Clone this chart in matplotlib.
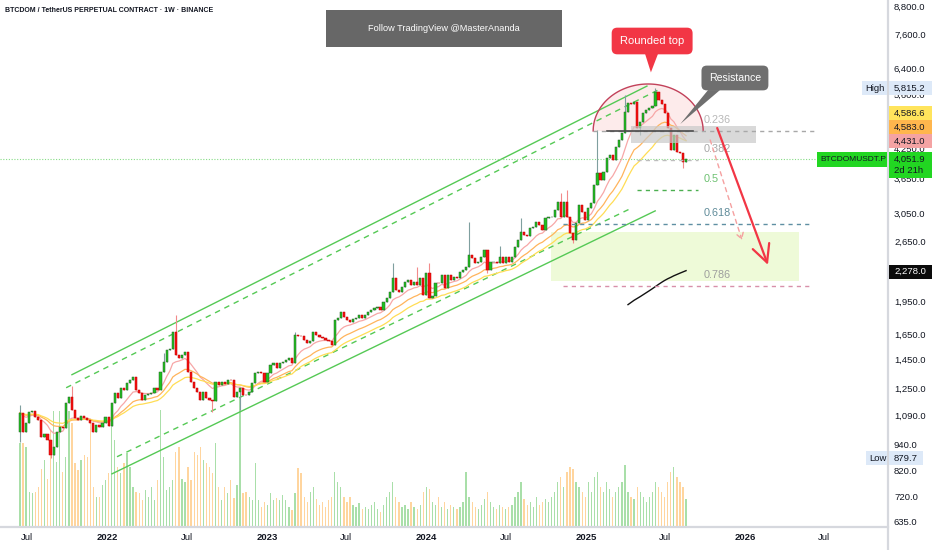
import datetime as dt
import numpy as np
import pandas as pd
import matplotlib
matplotlib.use("Agg")
import matplotlib.pyplot as plt
from matplotlib.patches import Rectangle, Polygon
from matplotlib.transforms import blended_transform_factory
from matplotlib import font_manager as fm


def pick_font(names):
    for n in names:
        try:
            fm.findfont(fm.FontProperties(family=n), fallback_to_default=False)
            return n
        except Exception:
            continue
    return "DejaVu Sans"


FONT = pick_font(["Liberation Sans", "Arial"])
NARROW = pick_font(["Liberation Sans Narrow", FONT])
plt.rcParams["font.family"] = [FONT, "DejaVu Sans"]

# ---------------------------------------------------------------- data
start_date = dt.date(2021, 6, 14)          # first weekly candle
first_open = 1007
closes = [
    1109, 1007, 1054, 1115, 1120, 1087, 1070, 981, 996, 966,
    895, 932, 1007, 1032, 1027, 1167, 1204, 1126, 1081, 1070,
    1092, 1081, 1070, 1054, 1007, 1043, 1032, 1054, 1087, 1038,
    1167, 1228, 1197, 1260, 1247, 1293, 1313, 1333, 1247, 1228,
    1185, 1216, 1222, 1228, 1260, 1247, 1367, 1439, 1530, 1538,
    1677, 1491, 1468, 1491, 1514, 1367, 1300, 1260, 1234, 1185,
    1234, 1197, 1185, 1179, 1300, 1280, 1300, 1287, 1313, 1310,
    1204, 1234, 1260, 1216, 1212, 1234, 1293, 1360, 1367, 1360,
    1300, 1360, 1417, 1432, 1395, 1432, 1439, 1454, 1468, 1432,
    1651, 1643, 1640, 1610, 1585, 1602, 1677, 1651, 1634, 1626,
    1610, 1602, 1569, 1782, 1801, 1857, 1810, 1782, 1764, 1791,
    1801, 1829, 1801, 1829, 1857, 1876, 1895, 1905, 1876, 1954,
    1994, 2056, 2208, 2077, 2056, 2109, 2164, 2186, 2131, 2164,
    2131, 2208, 2025, 2265, 1994, 2015, 2153, 2150, 2242, 2098,
    2242, 2186, 2220, 2208, 2277, 2300, 2336, 2483, 2445, 2384,
    2396, 2458, 2547, 2300, 2396, 2400, 2384, 2458, 2384, 2458,
    2396, 2458, 2587, 2680, 2792, 2750, 2736, 2850, 2865, 2938,
    2894, 2821, 2998, 3005, 3014, 3124, 3254, 3014, 3254, 3014,
    2778, 2680, 2924, 3205, 3092, 2968, 3156, 3238, 3549, 3772,
    3640, 3791, 4072, 4135, 4031, 4307, 4463, 4625, 5148, 5389,
    5362, 5417, 4745, 4892, 5122, 5201, 5254, 5308, 5700, 5473,
    5362, 5122, 4745, 4241, 4578, 4198, 4177, 3990, 4051.9,
]
volumes = [
    84, 84, 80, 35, 34, 35, 40, 58, 67, 48,
    97, 116, 65, 116, 55, 70, 116, 104, 64, 57,
    67, 72, 70, 107, 40, 30, 30, 42, 47, 54,
    102, 87, 60, 54, 64, 74, 60, 40, 35, 34,
    27, 37, 30, 40, 27, 47, 117, 70, 37, 40,
    47, 75, 80, 48, 45, 60, 47, 75, 72, 80,
    67, 64, 60, 54, 84, 40, 27, 40, 34, 47,
    29, 42, 130, 34, 35, 30, 27, 64, 27, 20,
    25, 22, 34, 27, 29, 27, 32, 27, 20, 17,
    34, 59, 54, 30, 25, 35, 40, 28, 22, 25,
    20, 27, 30, 55, 45, 40, 30, 25, 30, 22,
    20, 24, 18, 20, 18, 22, 25, 18, 15, 22,
    30, 35, 45, 30, 25, 20, 22, 18, 25, 20,
    18, 22, 35, 40, 38, 25, 22, 30, 20, 25,
    18, 22, 20, 18, 20, 25, 55, 30, 25, 20,
    18, 22, 28, 35, 25, 20, 18, 22, 20, 18,
    20, 22, 30, 35, 45, 28, 22, 25, 20, 30,
    22, 25, 28, 25, 30, 35, 45, 50, 40, 55,
    60, 58, 45, 40, 35, 30, 45, 35, 50, 55,
    40, 35, 45, 38, 30, 35, 40, 45, 62, 35,
    30, 28, 40, 35, 30, 25, 30, 35, 45, 40,
    35, 30, 45, 55, 60, 50, 45, 40, 28,
]
high_wicks = {0: 1155, 17: 1273, 47: 1508, 51: 1829, 90: 1677, 122: 2384,
              130: 2336, 134: 2384, 147: 2938, 157: 2600, 164: 2998,
              177: 3407, 179: 3459, 189: 4697, 198: 5614, 208: 5815.2}
low_wicks = {0: 956, 10: 879.7, 63: 1115, 72: 1126, 153: 2265, 181: 2640,
             203: 4578, 217: 3870}
ema_periods = [10, 20, 30]
sma_period = 200

last_price = 4051.9
high_value = 5815.2
low_value = 879.7
ema_values = [4431.0, 4583.0, 4586.6]
sma_value = 2278.0
price_ticks = [8800, 7600, 6400, 5600, 4250, 3650, 3050, 2650,
               1950, 1650, 1450, 1250, 1090, 940, 820, 720, 635]
time_labels = [("2021-07-01", "Jul"), ("2022-01-01", "2022"), ("2022-07-01", "Jul"),
               ("2023-01-01", "2023"), ("2023-07-01", "Jul"), ("2024-01-01", "2024"),
               ("2024-07-01", "Jul"), ("2025-01-01", "2025"), ("2025-07-01", "Jul"),
               ("2026-01-01", "2026"), ("2026-07-01", "Jul")]

# channel trend lines: (week index, price) pairs
chan_upper = [(17.0, 1347), (205.2, 5877)]
chan_upper_dash = [(15.1, 1260), (208.8, 5759)]
chan_lower = [(30.1, 812), (207.9, 3108)]
chan_lower_dash = [(31.75, 886), (200.3, 3156)]

fib_names = ["0.236", "0.382", "0.5", "0.618", "0.786"]
fib_prices = [4673, 4031, 3459, 2909, 2120]
fib_spans = [(187.6, 260.2), (202.0, 222.0), (202.0, 222.0), (177.7, 258.6), (177.7, 258.6)]
fib_line_colors = ["#a8a8a8", "#bdbdbd", "#4caf50", "#5f8fa3", "#d890aa"]
fib_text_colors = ["#b8b8b8", "#a8a8a8", "#6cc070", "#5f8b99", "#9e9e9e"]
fib_label_week = 223.6

resistance_line = (192.1, 220.3, 4673)
gray_zone = (200.0, 240.9, 4396, 4795)
green_zone = (173.8, 255.0, 2175, 2792)
arc_center, arc_half, arc_base, arc_top = 205.6, 18.0, 4673, 5940
arrow_solid = [(228.2, 4745), (244.8, 2360)]
arrow_dashed = [(225.9, 4463), (236.3, 2680)]
callout_top = (206.9, 7398)
callout_top_ptr = [(204.6, 6923), (208.8, 6923), (206.5, 6303)]
callout_res = (234.0, 6125)
callout_res_ptr = [(225.2, 5759), (229.1, 5759), (216.1, 4842)]

# ---------------------------------------------------------------- figure
W, H = 932, 550
fig = plt.figure(figsize=(W / 100, H / 100), dpi=100)
fig.patch.set_facecolor("white")
rect = [0, 23 / H, 888 / W, 527 / H]
XLIM = (-6.55, 284.1)
YLIM = (619, 9120)

n = len(closes)
idx = np.arange(n)
c = np.array(closes, float)
o = np.array([first_open] + closes[:-1], float)
up = c >= o
body_lo = np.minimum(o, c)
body_hi = np.maximum(o, c)
hi = body_hi.copy()
lo = body_lo.copy()
for k, v in high_wicks.items():
    hi[k] = v
for k, v in low_wicks.items():
    lo[k] = v

# volume axes (behind)
axv = fig.add_axes(rect)
axv.set_xlim(*XLIM)
axv.set_ylim(0, 527)
axv.bar(idx, volumes, width=0.42, color=np.where(up, "#a9dfa9", "#ffd59e"), linewidth=0)
axv.axis("off")

# price axes
ax = fig.add_axes(rect)
ax.patch.set_alpha(0)
ax.set_yscale("log")
ax.set_xlim(*XLIM)
ax.set_ylim(*YLIM)
for s in ax.spines.values():
    s.set_visible(False)
ax.set_xticks([])
ax.set_yticks([])
ax.yaxis.set_minor_locator(matplotlib.ticker.NullLocator())

# zones
ax.add_patch(Rectangle((green_zone[0], green_zone[2]), green_zone[1] - green_zone[0],
                       green_zone[3] - green_zone[2], fc="#eefad8", ec="none", zorder=0.5))
t = np.linspace(0, np.pi, 120)
arc_x = arc_center + arc_half * np.cos(t)
arc_y = np.exp(np.log(arc_base) + np.log(arc_top / arc_base) * np.sin(t))
ax.fill(arc_x, arc_y, fc="#fde6e6", ec="none", alpha=0.8, zorder=0.6)

# channel
ch_col = "#55c955"
for pts, ls in [(chan_upper, "-"), (chan_lower, "-"),
                (chan_upper_dash, (0, (4, 3.5))), (chan_lower_dash, (0, (4, 3.5)))]:
    ax.plot([p[0] for p in pts], [p[1] for p in pts], color=ch_col, lw=1.0, ls=ls, zorder=1)

# moving averages
cs = pd.Series(c)
for p, col in zip(ema_periods, ["#f7a7a7", "#ffb45c", "#ffdd55"]):
    ax.plot(idx, cs.ewm(span=p, adjust=False).mean(), color=col, lw=0.9, zorder=2)
ax.plot(idx, cs.rolling(sma_period).mean(), color="#111111", lw=1.0, zorder=2)

# candles
wick_cols = np.where(up, "#7f9f9f", "#f28a8a")
ax.vlines(idx, lo, hi, colors=wick_cols, lw=0.8, zorder=3)
ax.bar(idx, body_hi - body_lo, bottom=body_lo, width=0.72,
       color=np.where(up, "#1fc21f", "#f51010"),
       edgecolor=np.where(up, "#2d5e2d", "#c00000"), linewidth=0.35, zorder=4)

# gray resistance zone
ax.add_patch(Rectangle((gray_zone[0], gray_zone[2]), gray_zone[1] - gray_zone[0],
                       gray_zone[3] - gray_zone[2], fc="#c9c9c9", ec="none", alpha=0.7, zorder=4.5))
ax.plot(arc_x, arc_y, color="#c2415a", lw=1.0, zorder=5)

# fibonacci levels
for name, pr, (a, b), lc, tc in zip(fib_names, fib_prices, fib_spans, fib_line_colors, fib_text_colors):
    ax.plot([a, b], [pr, pr], color=lc, lw=1.0, ls=(0, (3, 3)), zorder=5)
    ax.annotate(name, (fib_label_week, pr), xytext=(0, 10.5), textcoords="offset pixels",
                ha="left", va="center", fontsize=7.8, color=tc, zorder=6)
ax.plot([resistance_line[0], resistance_line[1]], [resistance_line[2]] * 2,
        color="#4a4a4a", lw=1.2, zorder=5)

# current price line
ax.axhline(last_price, color="#86dc86", lw=0.8, ls=(0, (1, 1.5)), zorder=1)

# arrows
ax.annotate("", xy=arrow_solid[1], xytext=arrow_solid[0],
            arrowprops=dict(arrowstyle="->,head_length=0.9,head_width=0.45", color="#f23645",
                            lw=1.6, mutation_scale=14, shrinkA=0, shrinkB=0), zorder=6)
ax.annotate("", xy=arrow_dashed[1], xytext=arrow_dashed[0],
            arrowprops=dict(arrowstyle="->,head_length=0.4,head_width=0.25", color="#f5a0a0",
                            lw=1.0, ls=(0, (3, 3)), mutation_scale=10, shrinkA=0, shrinkB=0), zorder=6)

# callouts
ax.add_patch(Polygon(callout_top_ptr, closed=True, fc="#f23645", ec="none", zorder=7))
ax.text(callout_top[0], callout_top[1], "Rounded top", ha="center", va="center", fontsize=8,
        color="white", zorder=8,
        bbox=dict(boxstyle="round,pad=0.75,rounding_size=0.5", fc="#f23645", ec="none"))
ax.add_patch(Polygon(callout_res_ptr, closed=True, fc="#6f6f6f", ec="none", zorder=7))
ax.text(callout_res[0], callout_res[1], "Resistance", ha="center", va="center", fontsize=7.6,
        color="white", zorder=8,
        bbox=dict(boxstyle="round,pad=0.7,rounding_size=0.5", fc="#6f6f6f", ec="none"))


# ---------------------------------------------------------------- axes decor
def ref_y(price):
    return H - ax.transData.transform((0, price))[1]


def frect(x0, y_top, w, h, fc, z=5):
    fig.add_artist(Rectangle((x0 / W, 1 - (y_top + h) / H), w / W, h / H,
                             transform=fig.transFigure, fc=fc, ec="none", zorder=z))


def ftext(x, y, s, z=6, **kw):
    fig.text(x / W, 1 - y / H, s, zorder=z, **kw)


TXT = "#131722"
FS = 6.8
# borders
fig.add_artist(plt.Line2D([0, 888 / W], [23 / H, 23 / H], transform=fig.transFigure,
                          color="#d6d8de", lw=1.6, zorder=3))
fig.add_artist(plt.Line2D([888 / W, 888 / W], [0, 1], transform=fig.transFigure,
                          color="#d6d8de", lw=1.6, zorder=3))

for p in price_ticks:
    ftext(894, ref_y(p), f"{p:,.1f}", z=4, fontsize=FS, color=TXT, ha="left", va="center")

# high / low labels
yh = ref_y(high_value)
frect(862, yh - 7, 25, 14, "#dde9f8")
frect(889, yh - 7, 43, 14, "#dde9f8")
ftext(865, yh, "High", fontsize=FS, color=TXT, ha="left", va="center")
ftext(894, yh, f"{high_value:,.1f}", fontsize=FS, color=TXT, ha="left", va="center")
yl = ref_y(low_value)
frect(866, yl - 7, 21, 14, "#dde9f8")
frect(889, yl - 7, 34, 14, "#dde9f8")
ftext(869, yl, "Low", fontsize=FS, color=TXT, ha="left", va="center")
ftext(894, yl, f"{low_value:,.1f}", fontsize=FS, color=TXT, ha="left", va="center")

# moving-average labels (stacked upward from the lowest)
ybase = ref_y(ema_values[0])
for k, (val, col) in enumerate(zip(ema_values, ["#f4a3a3", "#ffb64d", "#ffe45c"])):
    yy = ybase - 14 * k
    frect(889, yy - 7, 43, 14, col)
    ftext(894, yy, f"{val:,.1f}", fontsize=FS, color=TXT, ha="left", va="center")

# last price
yp = ref_y(last_price)
frect(817, yp - 7, 70, 15, "#22d622")
ftext(820, yp + 0.5, "BTCDOMUSDT.P", fontsize=6.0, color=TXT, ha="left", va="center")
frect(889, yp - 6.5, 43, 26, "#22d622")
ftext(894, yp, f"{last_price:,.1f}", fontsize=FS, color=TXT, ha="left", va="center")
ftext(894, yp + 12, "2d 21h", fontsize=FS, color=TXT, ha="left", va="center")

# long MA label
ys = ref_y(sma_value)
frect(889, ys - 7, 43, 14, "#0b0b0b")
ftext(894, ys, f"{sma_value:,.1f}", fontsize=FS, color="white", ha="left", va="center")

# time axis
btf = blended_transform_factory(ax.transData, ax.transAxes)
for d, lab in time_labels:
    wkx = (dt.date.fromisoformat(d) - start_date).days / 7
    ax.text(wkx, -11 / 527, lab, transform=btf, ha="center", va="center", fontsize=FS,
            color=TXT, fontweight="bold" if lab != "Jul" else "normal", clip_on=False)

# title and note
ftext(5, 11, "BTCDOM / TetherUS PERPETUAL CONTRACT \u00b7 1W \u00b7 BINANCE", fontsize=5.0,
      fontweight="bold", color=TXT, ha="left", va="center", family=[NARROW, "DejaVu Sans"])
frect(326, 10, 236, 37, "#676767", z=7)
ftext(444, 28.5, "Follow TradingView @MasterAnanda", z=8, fontsize=6.6, color="white",
      ha="center", va="center")

fig.savefig("out.png", dpi=100, facecolor="white")
